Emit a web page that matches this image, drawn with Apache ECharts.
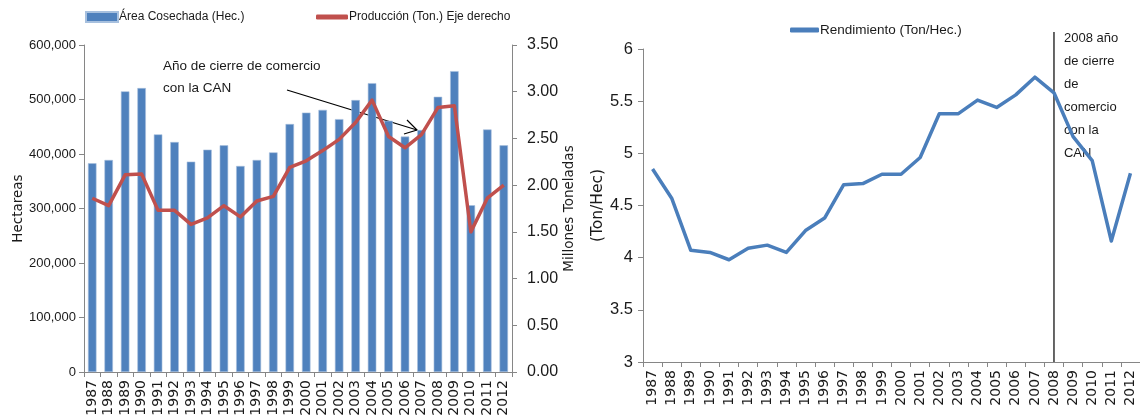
<!DOCTYPE html>
<html><head><meta charset="utf-8">
<script src="https://cdn.jsdelivr.net/npm/echarts@6/dist/echarts.min.js"></script>
<style>html,body{margin:0;padding:0;background:#fff}#c{width:1140px;height:419px}</style>
</head><body><div id="c"></div>
<script>
const years = ['1987','1988','1989','1990','1991','1992','1993','1994','1995','1996','1997','1998','1999','2000','2001','2002','2003','2004','2005','2006','2007','2008','2009','2010','2011','2012'];
const areaCosechada = [383000,389000,515000,521000,436000,422000,386000,408000,416000,378000,389000,403000,455000,476000,481000,464000,499000,530000,461000,432000,444000,505000,552000,306000,445000,416000];
const produccion = [1.86,1.78,2.11,2.12,1.73,1.73,1.58,1.65,1.78,1.66,1.83,1.88,2.19,2.26,2.37,2.49,2.67,2.91,2.52,2.40,2.54,2.83,2.85,1.50,1.86,2.00];
const rendimiento = [4.85,4.57,4.07,4.05,3.98,4.09,4.12,4.05,4.26,4.38,4.70,4.71,4.80,4.80,4.96,5.38,5.38,5.51,5.44,5.56,5.73,5.58,5.16,4.93,4.16,4.81];
const annotationLeft = ['Año de cierre de comercio', 'con la CAN'];
const annotationRight = ['2008 año', 'de cierre', 'de', 'comercio', 'con la', 'CAN'];
const closingYear = '2008';

const NARROW = "'Liberation Sans Narrow','Liberation Sans',Arial,sans-serif";
const WIDE = "'DejaVu Sans',Verdana,sans-serif";
const AX = '#868686';
const TXT = '#1a1a1a';

const chart = echarts.init(document.getElementById('c'), null, {renderer: 'canvas'});

const catAxis = (grid) => ({
  type: 'category', gridIndex: grid, data: years,
  axisLine: {lineStyle: {color: AX, width: 1}},
  axisTick: {show: true, alignWithLabel: false, length: 5, lineStyle: {color: AX}},
  axisLabel: {rotate: 90, interval: 0, fontFamily: WIDE, fontSize: 14, color: TXT, margin: 8}
});

chart.setOption({
  animation: false,
  backgroundColor: '#fff',
  grid: [
    {left: 84, width: 428, top: 45, height: 327},
    {left: 643, width: 510, top: 49, height: 313}
  ],
  legend: [
    {data: ['Área Cosechada (Hec.)'], left: 85, top: 11, padding: 0, itemWidth: 32, itemHeight: 10, icon: 'rect',
     textStyle: {fontFamily: NARROW, fontSize: 12, color: TXT, padding: [0,0,0,-4]}},
    {data: ['Producción (Ton.) Eje derecho'], left: 316, top: 11, padding: 0, itemWidth: 32, itemHeight: 5, icon: 'roundRect',
     textStyle: {fontFamily: NARROW, fontSize: 12, color: TXT, padding: [0,0,0,-4]}},
    {data: ['Rendimiento (Ton/Hec.)'], left: 790, top: 23, padding: 0, itemWidth: 29, itemHeight: 5, icon: 'roundRect',
     textStyle: {fontFamily: NARROW, fontSize: 13.5, color: TXT, padding: [0,0,0,-4]}}
  ],
  xAxis: [catAxis(0), catAxis(1)],
  yAxis: [
    {type: 'value', gridIndex: 0, min: 0, max: 600000, interval: 100000, position: 'left',
     name: 'Hectareas', nameLocation: 'middle', nameGap: 58, nameRotate: 90,
     nameTextStyle: {fontFamily: WIDE, fontSize: 13.5, color: TXT},
     axisLine: {show: true, lineStyle: {color: AX}},
     axisTick: {show: true, length: 5, lineStyle: {color: AX}},
     splitLine: {show: false},
     axisLabel: {fontFamily: NARROW, fontSize: 13, color: TXT, margin: 8,
       formatter: v => v.toLocaleString('en-US')}},
    {type: 'value', gridIndex: 0, min: 0, max: 3.5, interval: 0.5, position: 'right',
     name: 'Millones Toneladas', nameLocation: 'middle', nameGap: 49, nameRotate: 90,
     nameTextStyle: {fontFamily: WIDE, fontSize: 13.5, color: TXT},
     axisLine: {show: true, lineStyle: {color: AX}},
     axisTick: {show: true, length: 5, lineStyle: {color: AX}},
     splitLine: {show: false},
     axisLabel: {fontFamily: NARROW, fontSize: 16, color: TXT, margin: 15,
       formatter: v => v.toFixed(2)}},
    {type: 'value', gridIndex: 1, min: 3, max: 6, interval: 0.5, position: 'left',
     name: '(Ton/Hec)', nameLocation: 'middle', nameGap: 29, nameRotate: 90,
     nameTextStyle: {fontFamily: WIDE, fontSize: 15.5, color: TXT},
     axisLine: {show: true, lineStyle: {color: AX}},
     axisTick: {show: true, length: 5, lineStyle: {color: AX}},
     splitLine: {show: false},
     axisLabel: {fontFamily: NARROW, fontSize: 16.5, color: TXT, margin: 10}}
  ],
  series: [
    {name: 'Área Cosechada (Hec.)', type: 'bar', xAxisIndex: 0, yAxisIndex: 0, data: areaCosechada,
     barWidth: 8.5, itemStyle: {color: '#4F81BD', borderColor: '#A7C0DE', borderWidth: 0.6}},
    {name: 'Producción (Ton.) Eje derecho', type: 'line', xAxisIndex: 0, yAxisIndex: 1, data: produccion,
     symbol: 'none', lineStyle: {color: '#C0504D', width: 3.5, join: 'round'}, itemStyle: {color: '#C0504D'}},
    {name: 'Rendimiento (Ton/Hec.)', type: 'line', xAxisIndex: 1, yAxisIndex: 2, data: rendimiento,
     symbol: 'none', lineStyle: {color: '#4A7EBB', width: 3.5, join: 'round'}, itemStyle: {color: '#4A7EBB'}}
  ]
});

// annotations
const xLine = chart.convertToPixel({xAxisIndex: 1}, closingYear);
const yBottom = chart.convertToPixel({yAxisIndex: 2}, 3);
const graphics = [
  {type: 'line', shape: {x1: xLine, y1: 32, x2: xLine, y2: yBottom}, style: {stroke: '#000', lineWidth: 1.2}},
  {type: 'line', shape: {x1: 287, y1: 90, x2: 417, y2: 130}, style: {stroke: '#000', lineWidth: 1.2}},
  {type: 'polyline', shape: {points: [[407, 120], [417, 130], [404, 134]]}, style: {stroke: '#000', lineWidth: 1.2, fill: null}}
];
annotationLeft.forEach((t, i) => graphics.push({type: 'text', left: 163, top: 59 + i * 22,
  style: {text: t, font: "13.5px " + NARROW, fill: TXT}}));
annotationRight.forEach((t, i) => graphics.push({type: 'text', left: xLine + 10, top: 32 + i * 23,
  style: {text: t, font: "13px " + NARROW, fill: TXT}}));
chart.setOption({graphic: graphics});
</script></body></html>
